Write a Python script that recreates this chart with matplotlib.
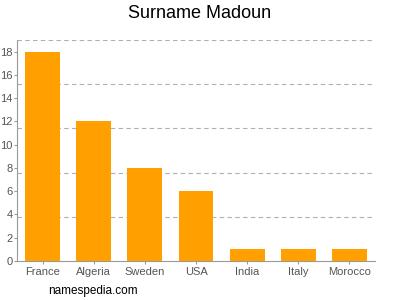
import matplotlib
matplotlib.use("Agg")
import matplotlib.pyplot as plt

countries = ["France", "Algeria", "Sweden", "USA", "India", "Italy", "Morocco"]
counts = [18, 12, 8, 6, 1, 1, 1]
y_ticks = [0, 2, 4, 6, 8, 10, 12, 14, 16, 18]
grid_levels = [3.8, 7.6, 11.4, 15.2, 19.0]

BAR = "#FFA000"
AXIS = "#999999"
TEXT = "#555555"

plt.rcParams["font.family"] = ["Liberation Sans", "DejaVu Sans"]

fig = plt.figure(figsize=(4.0, 3.0), dpi=100)
ax = fig.add_axes([17 / 400, 1 - 261 / 300, 358 / 400, 221 / 300])

x = list(range(len(countries)))
ax.bar(x, counts, width=0.68, color=BAR, zorder=3)
for level in grid_levels:
    ax.axhline(level, color="#B0B0B0", linewidth=0.8, linestyle=(0, (4, 3)), zorder=1)

ax.set_xlim(-0.5, len(countries) - 0.5)
ax.set_ylim(0, 19)
ax.set_xticks(x)
ax.set_xticklabels(countries)
ax.set_yticks(y_ticks)
ax.tick_params(axis="both", labelsize=8, colors=AXIS, labelcolor=TEXT, length=2, width=0.8, pad=1)
ax.tick_params(axis="x", pad=2)

for side in ("top", "right"):
    ax.spines[side].set_visible(False)
for side in ("left", "bottom"):
    ax.spines[side].set_color(AXIS)
    ax.spines[side].set_linewidth(0.8)

fig.text(0.5, 1 - 14 / 300, "Surname Madoun", ha="center", va="center", fontsize=13, color="#000000")
fig.text(48 / 400, 1 - 291 / 300, "namespedia.com", ha="left", va="center", fontsize=8.5, color="#000000")

fig.savefig("out.png")
